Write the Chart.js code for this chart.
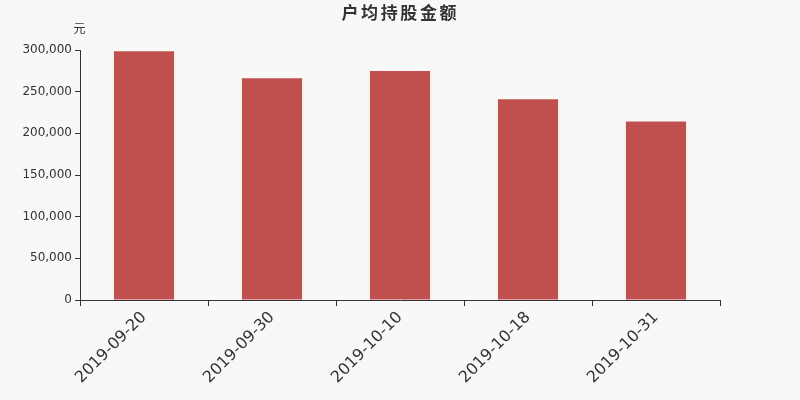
<!DOCTYPE html>
<html>
<head>
<meta charset="utf-8">
<script src="https://cdn.jsdelivr.net/npm/chart.js@4"></script>
<style>
html,body{margin:0;padding:0;background:#f8f8f8;}
#wrap{width:800px;height:400px;position:relative;}
</style>
</head>
<body>
<div id="wrap"><canvas id="c" width="800" height="400"></canvas></div>
<script>
const categories = ['2019-09-20', '2019-09-30', '2019-10-10', '2019-10-18', '2019-10-31'];
const values = [298500, 266000, 274800, 241000, 214200];
const titleText = '户均持股金额';
const unitText = '元';

const overlay = {
  id: 'overlay',
  afterDraw(chart) {
    const ctx = chart.ctx;
    ctx.save();
    ctx.fillStyle = '#333';
    ctx.textBaseline = 'middle';
    ctx.font = 'bold 17px "Noto Sans CJK SC", sans-serif';
    const chars = Array.from(titleText);
    const gap = 2.6;
    const widths = chars.map(ch => ctx.measureText(ch).width);
    const total = widths.reduce((a, b) => a + b, 0) + gap * (chars.length - 1);
    let x = 399 - total / 2;
    ctx.textAlign = 'left';
    chars.forEach((ch, i) => { ctx.fillText(ch, x, 13); x += widths[i] + gap; });
    ctx.textAlign = 'center';
    ctx.font = '12px "Noto Sans CJK SC", sans-serif';
    ctx.fillText(unitText, 79.5, 28);
    ctx.restore();
  }
};

new Chart(document.getElementById('c'), {
  type: 'bar',
  data: {
    labels: categories,
    datasets: [{
      data: values,
      backgroundColor: '#c0504e',
      borderWidth: 0,
      categoryPercentage: 1,
      barPercentage: 0.47
    }]
  },
  options: {
    responsive: false,
    animation: false,
    devicePixelRatio: 1,
    layout: { padding: { top: 50, right: 80, left: 0, bottom: 0 } },
    plugins: { legend: { display: false }, tooltip: { enabled: false }, title: { display: false } },
    scales: {
      x: {
        grid: { offset: true, drawOnChartArea: false, tickLength: 6, color: '#333' },
        border: { color: '#333', width: 1 },
        ticks: { color: '#333', font: { size: 16, family: 'DejaVu Sans' }, minRotation: 45, maxRotation: 45, padding: 2 },
        afterFit(s) { s.height = 100; }
      },
      y: {
        min: 0, max: 300000,
        grid: { drawOnChartArea: false, tickLength: 5, color: '#333' },
        border: { color: '#333', width: 1 },
        ticks: {
          stepSize: 50000, color: '#333', padding: 3,
          font: { size: 12, family: 'DejaVu Sans' },
          callback: v => Number(v).toLocaleString('en-US')
        },
        afterFit(s) { s.width = 80; }
      }
    }
  },
  plugins: [overlay]
});
</script>
</body>
</html>
